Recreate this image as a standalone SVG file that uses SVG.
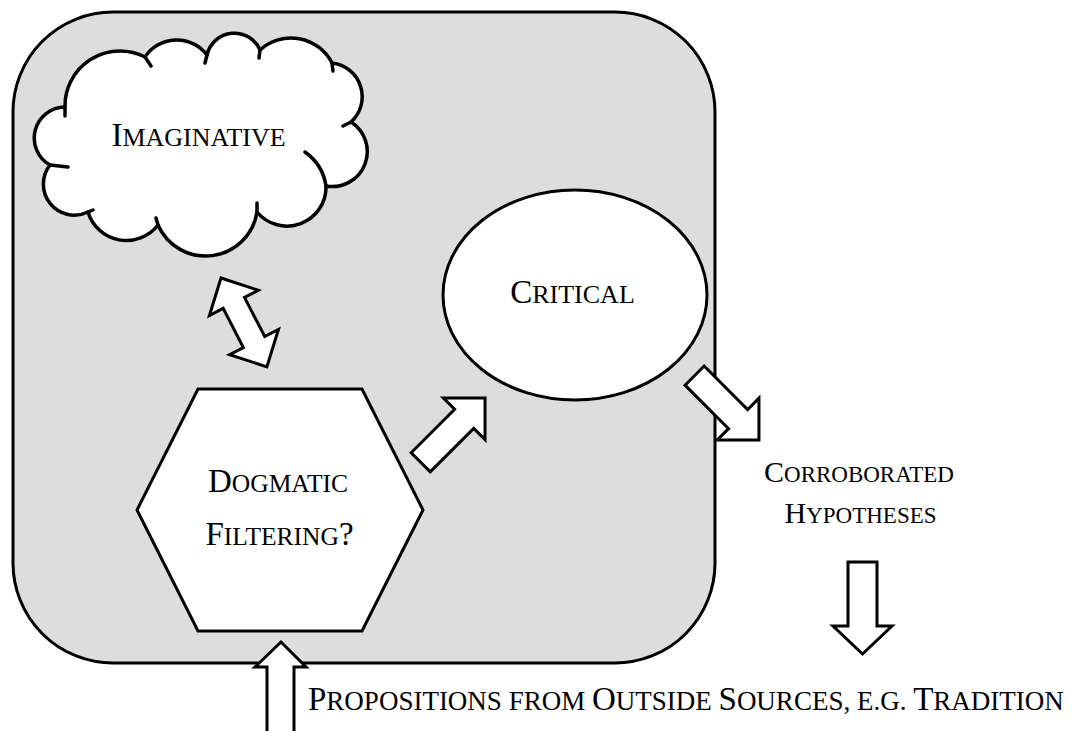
<svg xmlns="http://www.w3.org/2000/svg" width="1081" height="731" viewBox="0 0 1081 731">
  <style>
    .shape { fill: #ffffff; stroke: #000000; stroke-width: 3; stroke-linejoin: miter; }
    .cloud { fill: #ffffff; stroke: #000000; stroke-width: 3.5; stroke-linejoin: round; }
    .inner { fill: none; stroke: #000000; stroke-width: 3.5; stroke-linecap: round; }
    .arrow { fill: #ffffff; stroke: #000000; stroke-width: 3; stroke-linejoin: miter; }
    .label { font-family: "Liberation Serif", "Times New Roman", serif; fill: #000000; text-anchor: middle; }
    .big { font-size: 33px; }
    .sc { font-size: 26px; }
    .sc2 { font-size: 25.5px; }
    .obig { font-size: 30px; }
    .osc { font-size: 23px; }
    .bbig { font-size: 33px; }
    .bsc { font-size: 27px; }
  </style>
  <defs>
    <!-- block arrows drawn pointing right, tip at x = length -->
    <polygon id="arrow91" points="0,-13.5 61.5,-13.5 61.5,-29.5 91,0 61.5,29.5 61.5,13.5 0,13.5"/>
    <polygon id="darrow100" points="0,0 28,-27.5 28,-12 72,-12 72,-27.5 100,0 72,27.5 72,12 28,12 28,27.5"/>
  </defs>

  <!-- enclosing process box -->
  <g id="process-box">
    <rect x="13" y="12" width="702" height="651" rx="100" ry="100" fill="#dddddd" stroke="#000000" stroke-width="3"/>
  </g>

  <!-- imaginative cloud -->
  <g id="imaginative">
    <path class="cloud" d="M65,107 A55,55 0 0 1 145,57 A38,38 0 0 1 207,55 A28,28 0 0 1 260,50 A46,46 0 0 1 332,63 A34,34 0 0 1 351,122 A35,35 0 0 1 326,186 A39,39 0 0 1 257,212 A52,52 0 0 1 158,225 A40,40 0 0 1 88,212 A31,31 0 0 1 50,165 A31,31 0 0 1 65,107 Z"/>
    <path class="inner" d="M145,57 L151,66 M207,55 L205,63 M260,50 L259,58 M332,63 L333,71 M351,122 L343,126 M305,152 Q323,165 326,186 M257,212 L257,203 M158,225 L156,218 M88,212 L93,210 M50,165 L68,167 M65,107 L65,116"/>
    <text class="label" x="198.5" y="146"><tspan class="big">I</tspan><tspan class="sc">MAGINATIVE</tspan></text>
  </g>

  <!-- critical ellipse -->
  <g id="critical">
    <ellipse class="shape" cx="575" cy="295" rx="132" ry="105" stroke-width="2.5"/>
    <text class="label" x="572.5" y="303"><tspan class="big">C</tspan><tspan class="sc">RITICAL</tspan></text>
  </g>

  <!-- dogmatic filtering hexagon -->
  <g id="dogmatic">
    <polygon class="shape" points="198,389 362,389 423,510 362,631 198,631 137,510"/>
    <text class="label" x="278" y="492"><tspan class="big">D</tspan><tspan class="sc2">OGMATIC</tspan></text>
    <text class="label" x="279.5" y="545"><tspan class="big">F</tspan><tspan class="sc2">ILTERING</tspan><tspan class="big">?</tspan></text>
  </g>

  <!-- output label -->
  <g id="corroborated">
    <text class="label" x="859" y="482"><tspan class="obig">C</tspan><tspan class="osc">ORROBORATED</tspan></text>
    <text class="label" x="860.5" y="523"><tspan class="obig">H</tspan><tspan class="osc">YPOTHESES</tspan></text>
  </g>

  <!-- input label -->
  <g id="propositions">
    <text class="label" x="308" y="710" style="text-anchor: start"><tspan class="bbig">P</tspan><tspan class="bsc">ROPOSITIONS FROM </tspan><tspan class="bbig">O</tspan><tspan class="bsc">UTSIDE </tspan><tspan class="bbig">S</tspan><tspan class="bsc">OURCES, E.G. </tspan><tspan class="bbig">T</tspan><tspan class="bsc">RADITION</tspan></text>
  </g>

  <!-- connectors -->
  <g id="connectors">
    <use href="#darrow100" class="arrow" transform="translate(221,278) rotate(62.7)"/>
    <use href="#arrow91" class="arrow" transform="translate(420.7,462.3) rotate(-45)"/>
    <use href="#arrow91" class="arrow" transform="translate(694.6,375.6) rotate(45)"/>
    <polygon class="arrow" points="848,562 877,562 877,626 892,626 862.5,654 833,626 848,626"/>
    <polygon class="arrow" points="267,740 267,667 255,667 281,642 306,667 294,667 294,740"/>
  </g>
</svg>
